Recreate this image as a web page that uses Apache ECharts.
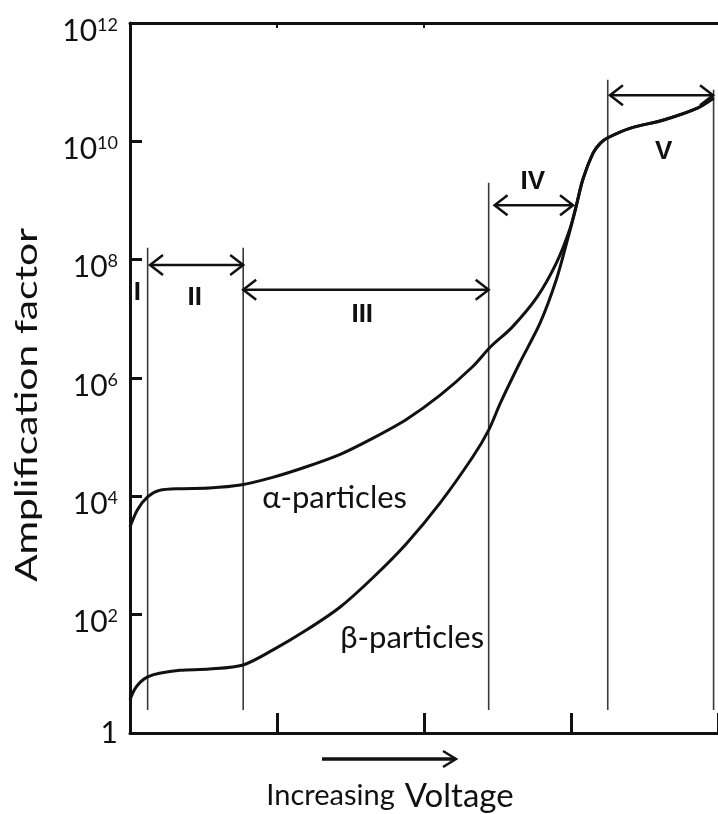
<!DOCTYPE html>
<html>
<head>
<meta charset="utf-8">
<title>Amplification factor vs increasing voltage</title>
<script src="https://cdn.jsdelivr.net/npm/echarts@6/dist/echarts.min.js"></script>
<style>
  html, body { margin: 0; padding: 0; background: #fff; }
  #main { width: 718px; height: 814px; }
</style>
</head>
<body>
<div id="main"></div>
<script>
// x: voltage (arbitrary units), y: amplification as a power of ten
const alphaVoltage = [0, 0.05, 0.12, 0.2, 0.34, 0.54, 0.75, 0.97, 1.2, 1.43, 1.65, 1.88, 2.11, 2.33, 2.45, 2.6, 2.77, 2.9, 2.99, 3.04, 3.08, 3.15, 3.2, 3.25, 3.4, 3.63, 3.86, 3.97];
const alphaExp = [3.48, 3.77, 3.99, 4.1, 4.13, 4.14, 4.19, 4.32, 4.5, 4.71, 4.98, 5.3, 5.71, 6.19, 6.52, 6.86, 7.37, 7.94, 8.5, 8.96, 9.35, 9.8, 9.97, 10.06, 10.22, 10.36, 10.56, 10.73];
const betaVoltage = [0, 0.03, 0.07, 0.12, 0.2, 0.34, 0.54, 0.77, 0.97, 1.2, 1.43, 1.65, 1.88, 2.11, 2.33, 2.44, 2.52, 2.65, 2.79, 2.9, 2.97, 3.03, 3.08, 3.15, 3.2, 3.25, 3.4, 3.63, 3.86, 3.97];
const betaExp = [0.56, 0.73, 0.86, 0.95, 1.01, 1.06, 1.08, 1.15, 1.4, 1.74, 2.13, 2.62, 3.2, 3.89, 4.66, 5.12, 5.58, 6.25, 6.93, 7.66, 8.28, 8.84, 9.35, 9.8, 9.97, 10.06, 10.22, 10.36, 10.56, 10.73];

// region boundaries (vertical lines) and the arrows between them
const regionX = [0.12, 0.77, 2.44, 3.25, 3.97];
const regionTop = [8.2, 8.2, 9.3, 11.04, 10.87];
const regionBottom = 0.39;
const arrowFrom = [0.136, 0.77, 2.48, 3.265];
const arrowTo = [0.77, 2.44, 3.014, 3.966];
const arrowLevel = [7.91, 7.49, 8.92, 10.78];
const regionNames = ['I', 'II', 'III', 'IV', 'V'];

// where the text annotations sit (data coords)
const regionLabelPos = [[0.05, 7.44], [0.44, 7.35], [1.58, 7.06], [2.74, 9.31], [3.63, 9.82]];
const curveLabels = [
  { text: 'α-particles', pos: [0.9, 3.97] },
  { text: 'β-particles', pos: [1.43, 1.61] }
];

const FONT = 'Lato, "Noto Sans", sans-serif';
const INK = '#111';

const chart = echarts.init(document.getElementById('main'));

const lineStyle = { color: INK, width: 3 };

const option = {
  animation: false,
  backgroundColor: '#fff',
  grid: { left: 130, top: 23, right: 0, bottom: 81 },
  xAxis: [
    {
      type: 'value', min: 0, max: 4, interval: 1,
      axisLine: { lineStyle: { color: INK, width: 3 } },
      axisTick: { inside: true, length: 20, lineStyle: { color: INK, width: 3 } },
      axisLabel: { show: false },
      splitLine: { show: false }
    },
    {
      type: 'value', position: 'top', min: 0, max: 4, interval: 1,
      axisLine: { onZero: false, lineStyle: { color: INK, width: 3 } },
      axisTick: { inside: true, length: 5, customValues: [1, 2], lineStyle: { color: INK, width: 2 } },
      axisLabel: { show: false },
      splitLine: { show: false }
    }
  ],
  yAxis: {
    type: 'value', min: 0, max: 12, interval: 2,
    axisLine: { lineStyle: { color: INK, width: 3 } },
    axisTick: { inside: true, length: 12, lineStyle: { color: INK, width: 3 } },
    splitLine: { show: false },
    axisLabel: {
      margin: 12,
      padding: [16, 0, 0, 0],
      formatter: v => v === 0 ? '{one|1}' : '{base|10}{sup|' + v + '}',
      rich: {
        base: { fontFamily: FONT, fontSize: 30, color: INK },
        sup: { fontFamily: FONT, fontSize: 18, color: INK, verticalAlign: 'top' },
        one: { fontFamily: FONT, fontSize: 30, color: INK, padding: [0, 0, 16, 0] }
      }
    }
  },
  graphic: [
    {
      type: 'text', x: 27, y: 405, rotation: Math.PI / 2, scaleX: 1.36,
      style: {
        text: 'Amplification factor', font: '30px ' + FONT, fill: INK,
        textAlign: 'center', textVerticalAlign: 'middle', align: 'center', verticalAlign: 'middle'
      }
    },
    {
      type: 'text', x: 390, y: 796,
      style: {
        text: '{a|Increasing}{sp| }{b|Voltage}', fill: INK,
        textAlign: 'center', textVerticalAlign: 'middle', align: 'center', verticalAlign: 'middle',
        rich: {
          a: { fontFamily: FONT, fontSize: 29, fill: INK },
          sp: { fontFamily: FONT, fontSize: 28, fill: INK, width: 10 },
          b: { fontFamily: FONT, fontSize: 33, fill: INK }
        }
      }
    },
    {
      type: 'line', shape: { x1: 322, y1: 759, x2: 455, y2: 759 },
      style: { stroke: INK, lineWidth: 3.5 }
    },
    {
      type: 'polyline', shape: { points: [[443, 751], [456, 759], [443, 767]] },
      style: { stroke: INK, lineWidth: 2.5, fill: null }
    }
  ],
  series: [
    {
      type: 'custom',
      name: 'regions',
      data: regionX.map((x, i) => [x, regionTop[i]]),
      encode: { x: 0, y: 1 },
      renderItem: (params, api) => {
        const top = api.coord([api.value(0), api.value(1)]);
        const bottom = api.coord([api.value(0), regionBottom]);
        return {
          type: 'line',
          shape: { x1: top[0], y1: top[1], x2: bottom[0], y2: bottom[1] },
          style: { stroke: '#3a3a3a', lineWidth: 1.6 }
        };
      }
    },
    {
      type: 'custom',
      name: 'arrows',
      data: arrowFrom.map((f, i) => [f, arrowTo[i], arrowLevel[i]]),
      encode: { x: [0, 1], y: 2 },
      renderItem: (params, api) => {
        const a = api.coord([api.value(0), api.value(2)]);
        const b = api.coord([api.value(1), api.value(2)]);
        const h = 13, w = 10;
        const st = { stroke: INK, lineWidth: 2.5, fill: null };
        return {
          type: 'group',
          children: [
            { type: 'line', shape: { x1: a[0], y1: a[1], x2: b[0], y2: b[1] }, style: st },
            { type: 'polyline', shape: { points: [[a[0] + h, a[1] - w], [a[0], a[1]], [a[0] + h, a[1] + w]] }, style: st },
            { type: 'polyline', shape: { points: [[b[0] - h, b[1] - w], [b[0], b[1]], [b[0] - h, b[1] + w]] }, style: st }
          ]
        };
      }
    },
    {
      type: 'custom',
      name: 'region labels',
      data: regionLabelPos,
      encode: { x: 0, y: 1 },
      renderItem: (params, api) => {
        const p = api.coord([api.value(0), api.value(1)]);
        return {
          type: 'text', x: p[0], y: p[1],
          style: {
            text: regionNames[params.dataIndex], font: 'bold 26px "Liberation Sans", Arial, sans-serif', fill: INK,
            align: 'center', verticalAlign: 'middle'
          }
        };
      }
    },
    {
      type: 'custom',
      name: 'curve labels',
      data: curveLabels.map(c => c.pos),
      encode: { x: 0, y: 1 },
      renderItem: (params, api) => {
        const p = api.coord([api.value(0), api.value(1)]);
        return {
          type: 'text', x: p[0], y: p[1],
          style: {
            text: curveLabels[params.dataIndex].text, font: '31px ' + FONT, fill: INK,
            align: 'left', verticalAlign: 'middle'
          }
        };
      }
    },
    {
      type: 'line',
      name: 'α-particles',
      data: alphaVoltage.map((x, i) => [x, alphaExp[i]]),
      smooth: 0.3,
      showSymbol: false,
      lineStyle: lineStyle,
      z: 5
    },
    {
      type: 'line',
      name: 'β-particles',
      data: betaVoltage.map((x, i) => [x, betaExp[i]]),
      smooth: 0.3,
      showSymbol: false,
      lineStyle: lineStyle,
      z: 5
    }
  ]
};

chart.setOption(option);
</script>
</body>
</html>
